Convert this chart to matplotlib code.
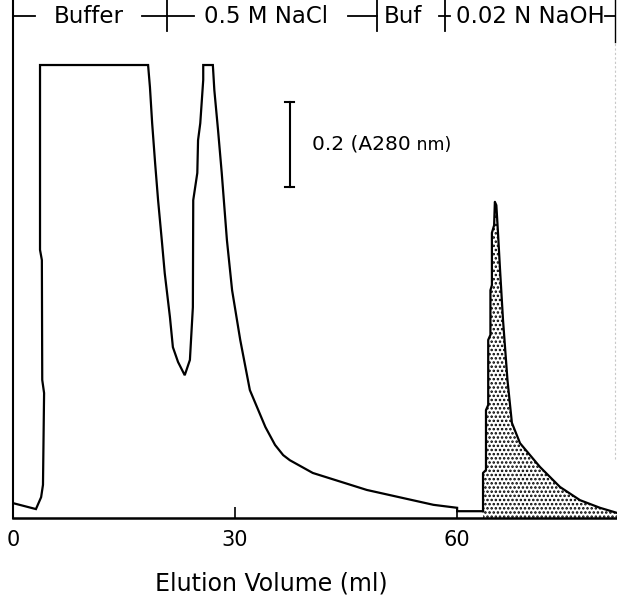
import matplotlib
matplotlib.use("Agg")
import matplotlib.pyplot as plt
import numpy as np

plt.rcParams["font.family"] = ["DejaVu Sans"]
plt.rcParams["hatch.linewidth"] = 1.2

# elution trace before the NaOH step (ml, A280)
vol_main = [0.0, 3.1, 3.8, 4.05, 4.2, 3.95, 3.9, 3.65, 3.65,
            18.25, 18.5, 18.8, 19.2, 19.6, 20.1, 20.5, 21.2, 21.6, 22.3, 23.2,
            23.9, 24.3, 24.35, 24.9, 25.0, 25.3, 25.7, 25.7,
            27.0, 27.2, 27.7, 28.2, 28.9, 29.6, 30.7, 32.0, 34.1, 35.4, 36.5,
            37.4, 40.5, 47.8, 56.8, 60.0, 60.0, 63.5]
abs_main = [0.035, 0.021, 0.049, 0.078, 0.294, 0.325, 0.607, 0.631, 1.066,
            1.066, 1.014, 0.929, 0.835, 0.748, 0.654, 0.576, 0.473, 0.402, 0.367, 0.336,
            0.372, 0.496, 0.748, 0.812, 0.889, 0.929, 1.031, 1.066,
            1.066, 1.007, 0.913, 0.812, 0.654, 0.536, 0.419, 0.301, 0.214, 0.172, 0.148,
            0.136, 0.106, 0.066, 0.031, 0.024, 0.016, 0.016]

# NaOH-eluted peak (shaded)
vol_naoh = [63.5, 63.5, 63.9, 63.9, 64.2, 64.2, 64.5, 64.5, 64.7, 64.7, 65.0,
            65.1, 65.3, 65.5, 65.8, 66.2, 66.8, 67.4, 68.5, 71.2, 73.9, 76.6,
            79.3, 81.6]
abs_naoh = [0.016, 0.106, 0.113, 0.254, 0.266, 0.419, 0.431, 0.536, 0.548, 0.671, 0.689,
            0.744, 0.736, 0.678, 0.584, 0.466, 0.325, 0.224, 0.176, 0.120, 0.073, 0.042,
            0.024, 0.012]

xticks = [0, 30, 60]

# buffer steps along the top: (label, x center)
steps = [("Buffer", 10.3), ("0.5 M NaCl", 34.2), ("Buf", 52.7), ("0.02 N NaOH", 69.9)]
step_marks = [20.8, 49.2, 58.4]
dashes = [(0.0, 3.0), (17.4, 24.5), (45.3, 49.2), (57.6, 59.0), (80.0, 81.35)]

XMAX = 81.6
YMAX = 1.219
YLAB = 1.181

W, H = 617, 597
fig = plt.figure(figsize=(W / 100, H / 100), dpi=100)
ax = fig.add_axes([13 / W, (H - 518) / H, (W - 13) / W, 518 / H])

ax.plot(vol_main, abs_main, color="black", lw=1.6, solid_joinstyle="miter")
ax.fill_between(vol_naoh, abs_naoh, 0, facecolor="white", edgecolor="black",
                hatch="....", linewidth=0)
ax.plot(vol_naoh, abs_naoh, color="black", lw=1.6)

# scale bar, 0.2 absorbance units
ax.plot([37.4, 37.4], [0.78, 0.98], color="black", lw=1.5)
for yb in (0.78, 0.98):
    ax.plot([36.8, 38.0], [yb, yb], color="black", lw=1.5)
t1 = ax.text(40.4, 0.88, "0.2 (A280", fontsize=14.5, va="center", ha="left")
ax.annotate(" nm)", xy=(1, 0.45), xycoords=t1, fontsize=12.5, va="center", ha="left")

# step annotations
for lab, xc in steps:
    ax.text(xc, YLAB, lab, fontsize=16.5, ha="center", va="center")
for x0, x1 in dashes:
    ax.plot([x0, x1], [YLAB, YLAB], color="black", lw=1.3, clip_on=False)
for xm in step_marks:
    ax.plot([xm, xm], [YLAB - 0.035, YLAB + 0.05], color="black", lw=1.3, clip_on=False)
ax.plot([81.35, 81.35], [YLAB - 0.06, YMAX], color="black", lw=1.0, clip_on=False)
ax.plot([81.35, 81.35], [0.14, YLAB - 0.06], color="#c8c8c8", lw=0.8, ls=(0, (2, 2)), clip_on=False)

ax.set_xlim(0, XMAX)
ax.set_ylim(0, YMAX)
ax.set_xticks(xticks)
ax.set_xticklabels([str(t) for t in xticks])
ax.set_yticks([])
ax.tick_params(axis="x", direction="in", length=8, width=1.2, pad=9, labelsize=15)
for s in ("top", "right"):
    ax.spines[s].set_visible(False)
ax.spines["left"].set_linewidth(1.5)
ax.spines["bottom"].set_linewidth(1.8)
ax.set_xlabel("Elution Volume (ml)", fontsize=17, va="center")
ax.xaxis.set_label_coords((271 - 13) / (W - 13), -65 / 518)

fig.savefig("out.png", dpi=100)
